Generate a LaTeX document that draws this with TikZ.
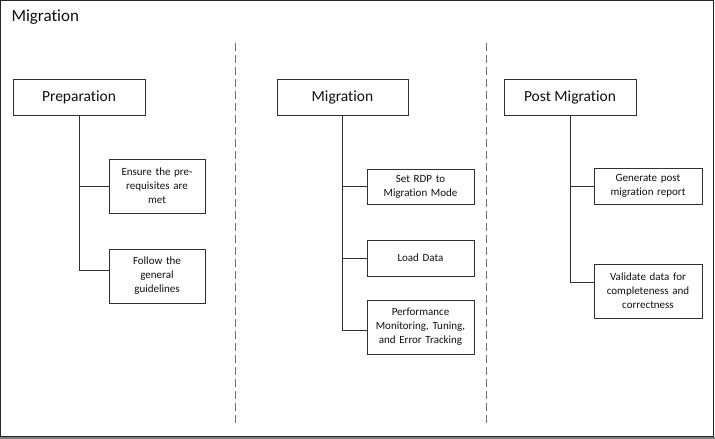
\documentclass[tikz,border=0pt]{standalone}
\usepackage{fontspec}
\setmainfont{Carlito}[Ligatures=NoCommon]
\definecolor{txt}{HTML}{101010}
\definecolor{bord}{HTML}{303030}
\definecolor{dashc}{HTML}{707070}
\tikzset{
  hdr/.style={draw=bord, line width=1pt, minimum width=132pt, minimum height=36pt, inner sep=0pt, font=\fontsize{15.5}{17}\selectfont, text=txt},
  leaf/.style={draw=bord, line width=1pt, inner sep=0pt, align=center, font=\fontsize{11}{14}\selectfont, text=txt},
  conn/.style={draw=bord, line width=1pt},
  sep/.style={draw=dashc, line width=1pt, dash pattern=on 8pt off 4pt}
}
\begin{document}
\begin{tikzpicture}[x=1pt,y=-1pt]
\useasboundingbox (0,0) rectangle (715,439);
\fill[white] (0,0) rectangle (715,439);
% frame
\draw[line width=1pt, black!85] (0.5,0.5) rectangle (713.5,436.5);
\draw[line width=2pt, black!50] (0,438) -- (715,438);
\node[anchor=west, font=\fontsize{17}{19}\selectfont, text=txt] (title) at (8,17) {Migration};
% separators
\coordinate (s1t) at (235,43); \coordinate (s1b) at (235,423);
\coordinate (s2t) at (486,43); \coordinate (s2b) at (486,423);
\draw[sep] (s1t) -- (s1b);
\draw[sep] (s2t) -- (s2b);
% headers
\node[hdr] (prep) at (79,97) {Preparation};
\node[hdr, minimum width=131pt] (mig) at (342.5,97) {Migration};
\node[hdr] (post) at (570,97) {Post Migration};
% leaves
\node[leaf, minimum width=96pt, minimum height=54pt, text width=92pt] (ensure) at (157,186) {Ensure the pre-\\requisites are\\met};
\node[leaf, minimum width=96pt, minimum height=54pt, text width=92pt] (follow) at (157,276) {Follow the\\general\\guidelines};
\node[leaf, minimum width=107pt, minimum height=35pt, text width=104pt] (rdp) at (420.5,186.5) {Set RDP to\\Migration Mode};
\node[leaf, minimum width=107pt, minimum height=36pt, text width=104pt] (load) at (420.5,258) {Load Data};
\node[leaf, minimum width=107pt, minimum height=54pt, text width=106pt] (perf) at (420.5,327) {Performance\\Monitoring, Tuning,\\and Error Tracking};
\node[leaf, minimum width=108pt, minimum height=36pt, text width=106pt] (gen) at (648,186) {Generate post\\migration report};
\node[leaf, minimum width=108pt, minimum height=54pt, text width=106pt] (valid) at (648,291) {Validate data for\\completeness and\\correctness};
% connectors
\draw[conn] (prep.south) |- ([yshift=6pt]follow.west);
\draw[conn] (prep.south |- ensure.west) -- (ensure.west);
\draw[conn] (mig.south) |- ([yshift=-3pt]perf.west);
\draw[conn] (mig.south |- rdp.west) -- (rdp.west);
\draw[conn] (mig.south |- load.west) -- (load.west);
\draw[conn] (post.south) |- ([yshift=9pt]valid.west);
\draw[conn] (post.south |- gen.west) -- (gen.west);
\end{tikzpicture}
\end{document}
